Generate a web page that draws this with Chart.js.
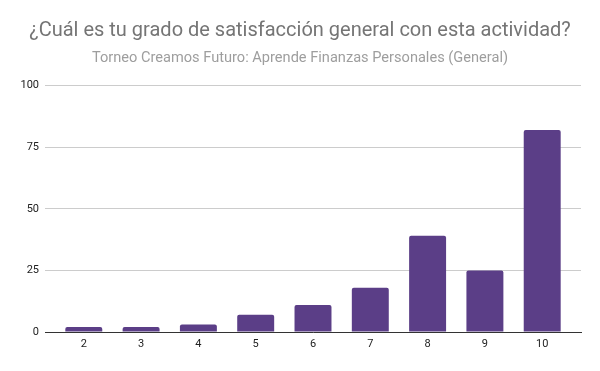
<!DOCTYPE html>
<html>
<head>
<meta charset="utf-8">
<script src="https://cdn.jsdelivr.net/npm/chart.js@4/dist/chart.umd.min.js"></script>
<style>
   html, body { margin: 0; padding: 0; background: #fff; }
   #wrap { width: 600px; height: 371px; position: relative; }
</style>
</head>
<body>
<div id="wrap"><canvas id="chart"></canvas></div>
<script>
// Data
const categories = [2, 3, 4, 5, 6, 7, 8, 9, 10];
const responses = [2, 2, 3, 7, 11, 18, 39, 25, 82];
const yTicks = [0, 25, 50, 75, 100];

// x runs on a linear scale so the bars get the inner margin the original has
const points = categories.map((c, i) => ({ x: c, y: responses[i] }));

const ctx = document.getElementById("chart").getContext("2d");
new Chart(ctx, {
   type: "bar",
   data: {
      datasets: [
         {
            label: "Respuestas",
            data: points,
            backgroundColor: "#5b3e87",
            borderRadius: { topLeft: 2, topRight: 2 },
            borderSkipped: "bottom",
            categoryPercentage: 1,
            barPercentage: 0.645,
         },
      ],
   },
   options: {
      responsive: true,
      maintainAspectRatio: false,
      animation: false,
      layout: { padding: { left: 19, right: 19, top: 0, bottom: 0 } },
      plugins: {
         legend: { display: false },
         tooltip: { enabled: false },
         title: {
            display: true,
            text: "¿Cuál es tu grado de satisfacción general con esta actividad?",
            color: "#757575",
            font: { family: "Roboto", size: 20, weight: "normal", lineHeight: 1.2 },
            padding: { top: 19, bottom: 7 },
         },
         subtitle: {
            display: true,
            text: "Torneo Creamos Futuro: Aprende Finanzas Personales (General)",
            color: "#9e9e9e",
            font: { family: "Roboto", size: 14.6, weight: "normal", lineHeight: 1.2 },
            padding: { top: 0, bottom: 18 },
         },
      },
      scales: {
         x: {
            type: "linear",
            min: 1.323,
            max: 10.677,
            offset: false,
            afterBuildTicks: (axis) => {
               axis.ticks = categories.map((v) => ({ value: v }));
            },
            afterFit: (axis) => {
               axis.height = 39;
            },
            grid: { display: false, drawTicks: false },
            border: { display: true, color: "#333333", width: 1 },
            ticks: {
               color: "#222222",
               font: { family: "Roboto", size: 11 },
               padding: 6,
               autoSkip: false,
               maxRotation: 0,
               callback: (v) => String(v),
            },
         },
         y: {
            min: 0,
            max: 100,
            afterBuildTicks: (axis) => {
               axis.ticks = yTicks.map((v) => ({ value: v }));
            },
            afterFit: (axis) => {
               axis.width = 26;
            },
            grid: { color: "#cccccc", drawTicks: false },
            border: { display: false },
            ticks: {
               color: "#222222",
               font: { family: "Roboto", size: 11 },
               padding: 6,
            },
         },
      },
   },
});
</script>
</body>
</html>
